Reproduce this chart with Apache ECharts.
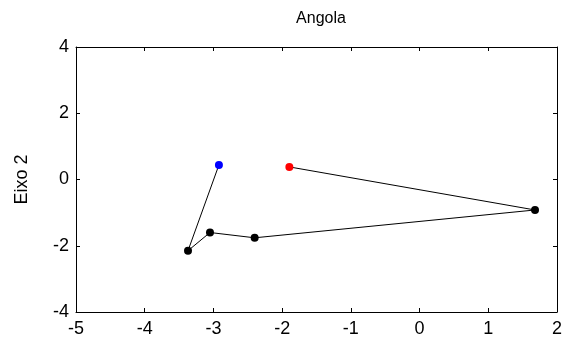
<!DOCTYPE html>
<html><head><meta charset="utf-8">
<script src="https://cdn.jsdelivr.net/npm/echarts@6/dist/echarts.min.js"></script>
<style>html,body{margin:0;padding:0;background:#fff}#c{width:567px;height:348px}</style>
</head><body><div id="c"></div>
<script>
const title = "Angola";
const yName = "Eixo 2";
const xs = [-2.92, -3.37, -3.05, -2.40, 1.68, -1.895];
const ys = [0.44, -2.15, -1.60, -1.76, -0.92, 0.38];
const pointColors = ["#0000ff", "#000000", "#000000", "#000000", "#000000", "#ff0000"];
const xTicks = [-5, -4, -3, -2, -1, 0, 1, 2];
const yTicks = [-4, -2, 0, 2, 4];

const font = "'Liberation Sans', Arial, sans-serif";
const data = xs.map((x, i) => ({value: [x, ys[i]], itemStyle: {color: pointColors[i]}}));
const axisLine = {show: true, onZero: false, lineStyle: {color: '#000', width: 1}};
const tick = {show: true, inside: true, length: 4, lineStyle: {color: '#000'}};
const chart = echarts.init(document.getElementById('c'), null, {renderer: 'canvas'});
chart.setOption({
  animation: false,
  backgroundColor: '#fff',
  title: {text: title, left: 316, top: 6, textAlign: 'center',
    textStyle: {fontFamily: font, fontSize: 16, fontWeight: 'normal', color: '#000'}},
  grid: {left: 76, right: 10, top: 47, bottom: 36, containLabel: false},
  xAxis: [
    {type: 'value', min: xTicks[0], max: xTicks[xTicks.length-1], interval: 1, position: 'bottom',
     axisLine, axisTick: tick, splitLine: {show: false},
     axisLabel: {fontFamily: font, fontSize: 18, color: '#000', margin: 8}},
    {type: 'value', min: xTicks[0], max: xTicks[xTicks.length-1], interval: 1, position: 'top',
     axisLine, axisTick: tick, splitLine: {show: false}, axisLabel: {show: false}}
  ],
  yAxis: [
    {type: 'value', min: yTicks[0], max: yTicks[yTicks.length-1], interval: 2, position: 'left',
     name: yName, nameLocation: 'middle', nameGap: 45, nameRotate: 90,
     nameTextStyle: {fontFamily: font, fontSize: 18, color: '#000'},
     axisLine, axisTick: tick, splitLine: {show: false},
     axisLabel: {fontFamily: font, fontSize: 18, color: '#000', margin: 7}},
    {type: 'value', min: yTicks[0], max: yTicks[yTicks.length-1], interval: 2, position: 'right',
     axisLine, axisTick: tick, splitLine: {show: false}, axisLabel: {show: false}}
  ],
  series: [{
    type: 'line', data, symbol: 'circle', symbolSize: 8,
    lineStyle: {color: '#000', width: 1}, itemStyle: {color: '#000'}, z: 3
  }]
});
</script></body></html>
